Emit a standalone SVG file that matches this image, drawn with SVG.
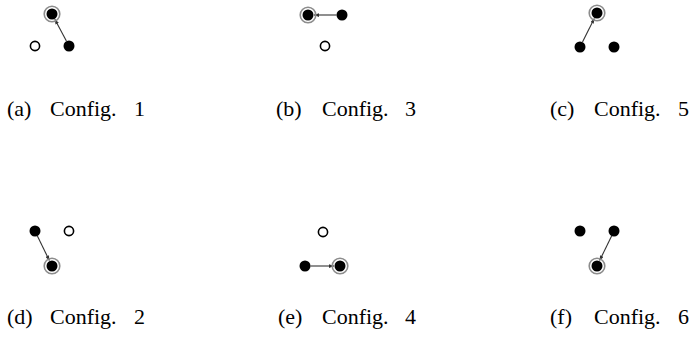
<svg xmlns="http://www.w3.org/2000/svg" width="694" height="354" viewBox="0 0 694 354">
  <style>
    .full { fill: #000; }
    .open { fill: #fff; stroke: #000; stroke-width: 1.6; }
    .ring { fill: none; stroke: #8c8c8c; stroke-width: 1.6; }
    .edge { stroke: #333; stroke-width: 1.1; fill: none; marker-end: url(#tip); }
    .cap { font-family: "Liberation Serif", "DejaVu Serif", serif; font-size: 22px; fill: #000; }
  </style>
  <defs>
    <marker id="tip" viewBox="0 0 8 6" refX="8" refY="3" markerWidth="5" markerHeight="4" markerUnits="userSpaceOnUse" orient="auto">
      <path d="M0,0 L8,3 L0,6 Z" fill="#333"/>
    </marker>
  </defs>
  <rect width="694" height="354" fill="#fff"/>

  <!-- move arrows -->
  <g id="connectors">
    <line class="edge" x1="66.4" y1="41.1" x2="54.8" y2="19.3"/>
    <line class="edge" x1="336.5" y1="15" x2="314" y2="15"/>
    <line class="edge" x1="582.5" y1="42.1" x2="594.3" y2="18.4"/>
    <line class="edge" x1="37.4" y1="236" x2="49.4" y2="260.6"/>
    <line class="edge" x1="310.5" y1="266" x2="334" y2="266"/>
    <line class="edge" x1="611.6" y1="236" x2="599.6" y2="260.6"/>
  </g>

  <!-- (a) Config. 1 -->
  <g id="config1">
    <circle class="ring" cx="52" cy="14" r="7.8"/>
    <circle class="full" cx="52" cy="14" r="5.5"/>
    <circle class="open" cx="35" cy="46" r="4.6"/>
    <circle class="full" cx="69" cy="46" r="5.5"/>
    <text class="cap" x="7" y="116">(a)</text>
    <text class="cap" x="50" y="116">Config.</text>
    <text class="cap" x="134" y="116">1</text>
  </g>

  <!-- (b) Config. 3 -->
  <g id="config3">
    <circle class="ring" cx="308" cy="15" r="7.8"/>
    <circle class="full" cx="308" cy="15" r="5.5"/>
    <circle class="full" cx="342" cy="15" r="5.5"/>
    <circle class="open" cx="325" cy="46" r="4.6"/>
    <text class="cap" x="276" y="116">(b)</text>
    <text class="cap" x="322" y="116">Config.</text>
    <text class="cap" x="405" y="116">3</text>
  </g>

  <!-- (c) Config. 5 -->
  <g id="config5">
    <circle class="ring" cx="597" cy="13" r="7.8"/>
    <circle class="full" cx="597" cy="13" r="5.5"/>
    <circle class="full" cx="580" cy="47" r="5.5"/>
    <circle class="full" cx="614" cy="47" r="5.5"/>
    <text class="cap" x="550" y="116">(c)</text>
    <text class="cap" x="594" y="116">Config.</text>
    <text class="cap" x="678" y="116">5</text>
  </g>

  <!-- (d) Config. 2 -->
  <g id="config2">
    <circle class="full" cx="35" cy="231" r="5.5"/>
    <circle class="open" cx="69" cy="231" r="4.6"/>
    <circle class="ring" cx="52" cy="266" r="7.8"/>
    <circle class="full" cx="52" cy="266" r="5.5"/>
    <text class="cap" x="7" y="324">(d)</text>
    <text class="cap" x="50" y="324">Config.</text>
    <text class="cap" x="134" y="324">2</text>
  </g>

  <!-- (e) Config. 4 -->
  <g id="config4">
    <circle class="open" cx="323" cy="232" r="4.6"/>
    <circle class="full" cx="305" cy="266" r="5.5"/>
    <circle class="ring" cx="340" cy="266" r="7.8"/>
    <circle class="full" cx="340" cy="266" r="5.5"/>
    <text class="cap" x="278" y="324">(e)</text>
    <text class="cap" x="322" y="324">Config.</text>
    <text class="cap" x="405" y="324">4</text>
  </g>

  <!-- (f) Config. 6 -->
  <g id="config6">
    <circle class="full" cx="580" cy="231" r="5.5"/>
    <circle class="full" cx="614" cy="231" r="5.5"/>
    <circle class="ring" cx="597" cy="266" r="7.8"/>
    <circle class="full" cx="597" cy="266" r="5.5"/>
    <text class="cap" x="550" y="324">(f)</text>
    <text class="cap" x="594" y="324">Config.</text>
    <text class="cap" x="678" y="324">6</text>
  </g>
</svg>
